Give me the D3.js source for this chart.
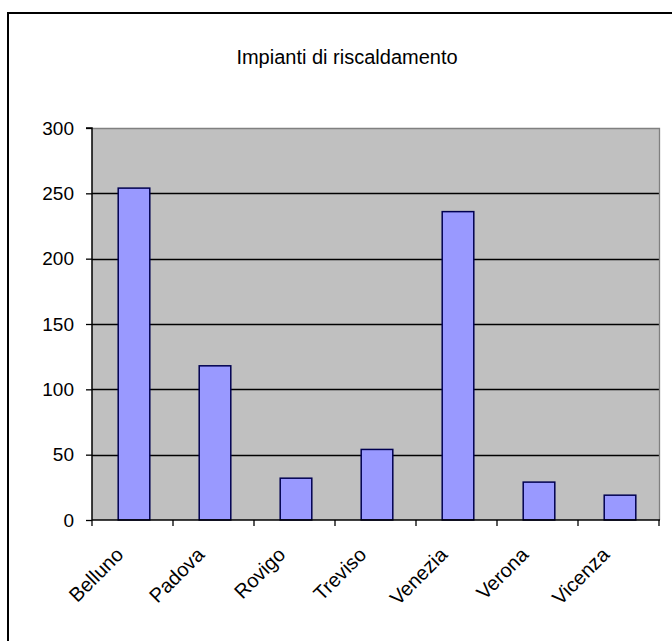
<!DOCTYPE html>
<html>
<head>
<meta charset="utf-8">
<script src="https://cdn.jsdelivr.net/npm/d3@7"></script>
<style>
  html, body { margin: 0; padding: 0; background: #ffffff; }
  svg { display: block; font-family: "Liberation Sans", Arial, sans-serif; }
</style>
</head>
<body>
<svg id="chart" width="672" height="641"></svg>
<script>
const title = "Impianti di riscaldamento";
const categories = ["Belluno", "Padova", "Rovigo", "Treviso", "Venezia", "Verona", "Vicenza"];
const values = [254, 118, 32, 54, 236, 29, 19];
const yTicks = [0, 50, 100, 150, 200, 250, 300];

const svg = d3.select("#chart");
const W = 672, H = 641;
svg.append("rect").attr("x", 0).attr("y", 0).attr("width", W).attr("height", H).attr("fill", "#fff");

// outer chart-area border (extends beyond canvas at right/bottom)
svg.append("rect").attr("x", 8).attr("y", 13).attr("width", 720).attr("height", 720)
  .attr("fill", "#fff").attr("stroke", "#000").attr("stroke-width", 2);

const plot = { left: 92, right: 659, top: 128, bottom: 520 };

const x = d3.scaleBand().domain(categories).range([plot.left, plot.right]).padding(0);
const y = d3.scaleLinear().domain([0, 300]).range([plot.bottom, plot.top]);

// plot background
svg.append("rect").attr("x", plot.left).attr("y", plot.top)
  .attr("width", plot.right - plot.left).attr("height", plot.bottom - plot.top)
  .attr("fill", "#c0c0c0");

// gridlines
svg.append("g").selectAll("line").data(yTicks.filter(d => d > 0 && d < 300)).join("line")
  .attr("x1", plot.left).attr("x2", plot.right)
  .attr("y1", d => Math.round(y(d)) + 0.5).attr("y2", d => Math.round(y(d)) + 0.5)
  .attr("stroke", "#000").attr("stroke-width", 1.3);

// plot border top/right (gray)
svg.append("path")
  .attr("d", `M${plot.left},${plot.top + 0.5}H${plot.right + 0.5}V${plot.bottom}`)
  .attr("fill", "none").attr("stroke", "#808080").attr("stroke-width", 1.3);

// bars
const bw = x.bandwidth() * 0.39;
svg.append("g").selectAll("rect").data(categories).join("rect")
  .attr("x", (d) => x(d) + x.bandwidth() / 2 - bw / 2 + 1.5)
  .attr("y", (d, i) => y(values[i]))
  .attr("width", bw)
  .attr("height", (d, i) => y(0) - y(values[i]))
  .attr("fill", "#9999ff").attr("stroke", "#000050").attr("stroke-width", 1.5);

// y axis
const yAxis = d3.axisLeft(y).tickValues(yTicks).tickSize(6).tickPadding(12);
const gy = svg.append("g").attr("transform", `translate(${plot.left},0)`).call(yAxis);
gy.select(".domain").attr("stroke", "#000").attr("stroke-width", 1.5).attr("d", `M-6,${plot.top}H0V${plot.bottom}`);
gy.selectAll(".tick line").attr("stroke", "#000").attr("stroke-width", 1.3);
gy.selectAll(".tick text").attr("font-size", 19).attr("fill", "#000")
  .attr("font-family", "'Liberation Sans', Arial, sans-serif");

// x axis
const gx = svg.append("g").attr("transform", `translate(0,${plot.bottom})`);
gx.append("line").attr("x1", plot.left).attr("x2", plot.right + 1).attr("y1", 0).attr("y2", 0)
  .attr("stroke", "#000").attr("stroke-width", 1.5);
const boundaries = categories.map(c => x(c)).concat([plot.right]);
gx.selectAll("line.tk").data(boundaries).join("line").attr("class", "tk")
  .attr("x1", d => d).attr("x2", d => d).attr("y1", 0).attr("y2", 6)
  .attr("stroke", "#000").attr("stroke-width", 1.3);
gx.selectAll("text").data(categories).join("text")
  .attr("transform", d => `translate(${x(d) + x.bandwidth() / 2 - 8},${36}) rotate(-45)`)
  .attr("text-anchor", "end")
  .attr("font-size", 20)
  .attr("fill", "#000")
  .text(d => d);

// title
svg.append("text").attr("x", 347).attr("y", 64).attr("text-anchor", "middle")
  .attr("font-size", 20).attr("fill", "#000").text(title);
</script>
</body>
</html>
